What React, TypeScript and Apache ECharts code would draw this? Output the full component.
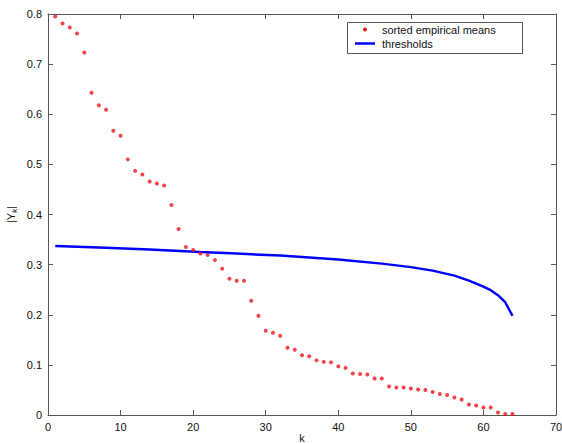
import React, { useEffect, useRef } from "react";
import * as echarts from "echarts";

const meansK = Array.from({ length: 64 }, (_, i) => i + 1);
const meansValues = [
  0.795, 0.781, 0.773, 0.761, 0.723, 0.643, 0.618, 0.609, 0.567, 0.557,
  0.510, 0.487, 0.480, 0.466, 0.462, 0.458, 0.419, 0.371, 0.335, 0.329,
  0.322, 0.319, 0.309, 0.292, 0.272, 0.268, 0.268, 0.228, 0.198, 0.168,
  0.164, 0.158, 0.134, 0.130, 0.119, 0.117, 0.109, 0.106, 0.105, 0.097,
  0.094, 0.083, 0.082, 0.081, 0.073, 0.073, 0.057, 0.055, 0.055, 0.053,
  0.051, 0.050, 0.046, 0.042, 0.040, 0.035, 0.031, 0.021, 0.019, 0.015,
  0.015, 0.005, 0.002, 0.002,
];

const thresholdK = [1, 7, 14, 21, 26, 32, 40, 46, 50, 53, 56, 58, 59, 60, 61, 62, 63, 64];
const thresholdValues = [
  0.337, 0.334, 0.330, 0.325, 0.322, 0.318, 0.310, 0.302, 0.295, 0.288,
  0.278, 0.268, 0.262, 0.256, 0.249, 0.239, 0.225, 0.198,
];

const legendLabels = ["sorted empirical means", "thresholds"];

const FONT = "Liberation Sans, Arial, sans-serif";
const AXIS_COLOR = "#555";

export default function App() {
  const ref = useRef<HTMLDivElement>(null);

  useEffect(() => {
    if (!ref.current) return;
    const chart = echarts.init(ref.current, undefined, { renderer: "svg" });

    const baseAxis = {
      axisLine: { show: true, onZero: false, lineStyle: { color: AXIS_COLOR, width: 1 } },
      axisTick: { show: true, inside: true, length: 5, lineStyle: { color: AXIS_COLOR } },
      splitLine: { show: false },
    };

    chart.setOption({
      animation: false,
      backgroundColor: "#fff",
      grid: { left: 48, right: 6, top: 14, bottom: 29, containLabel: false, outerBoundsMode: "none" },
      xAxis: [
        {
          ...baseAxis,
          type: "value",
          min: 0,
          max: 70,
          interval: 10,
          position: "bottom",
          name: "k",
          nameLocation: "middle",
          nameGap: 17,
          nameMoveOverlap: false,
          nameTextStyle: { fontFamily: FONT, fontSize: 11, color: "#111" },
          axisLabel: { fontFamily: FONT, fontSize: 11, color: "#111", margin: 6 },
        },
        {
          ...baseAxis,
          type: "value",
          min: 0,
          max: 70,
          interval: 10,
          position: "top",
          axisLabel: { show: false },
        },
      ],
      yAxis: [
        {
          ...baseAxis,
          type: "value",
          min: 0,
          max: 0.8,
          interval: 0.1,
          position: "left",
          name: "|Y{sub|k}|",
          nameLocation: "middle",
          nameGap: 30,
          nameMoveOverlap: false,
          nameRotate: 90,
          nameTextStyle: {
            fontFamily: FONT,
            fontSize: 11,
            color: "#111",
            rich: { sub: { fontFamily: FONT, fontSize: 8, color: "#111", verticalAlign: "bottom", padding: [6, 0, 0, 0] } },
          },
          axisLabel: {
            fontFamily: FONT,
            fontSize: 11,
            color: "#111",
            margin: 6,
            formatter: (v: number) => (Math.abs(v) < 1e-9 ? "0" : String(Math.round(v * 10) / 10)),
          },
        },
        {
          ...baseAxis,
          type: "value",
          min: 0,
          max: 0.8,
          interval: 0.1,
          position: "right",
          axisLabel: { show: false },
        },
      ],
      series: [
        {
          name: legendLabels[0],
          type: "scatter",
          symbol: "circle",
          symbolSize: 4,
          itemStyle: { color: "#e8141c" },
          data: meansK.map((k, i) => [k, meansValues[i]]),
          z: 3,
        },
        {
          name: legendLabels[1],
          type: "line",
          showSymbol: false,
          smooth: false,
          lineStyle: { color: "#0000ff", width: 2.5 },
          data: thresholdK.map((k, i) => [k, thresholdValues[i]]),
          z: 2,
        },
      ],
      graphic: [
        {
          type: "rect",
          shape: { x: 347.5, y: 22.5, width: 175, height: 31 },
          style: { fill: "#fff", stroke: "#555", lineWidth: 1 },
          z: 10,
        },
        {
          type: "circle",
          shape: { cx: 365, cy: 29.5, r: 2 },
          style: { fill: "#e8141c" },
          z: 11,
        },
        {
          type: "line",
          shape: { x1: 355, y1: 43.5, x2: 375, y2: 43.5 },
          style: { stroke: "#0000ff", lineWidth: 2.5 },
          z: 11,
        },
        {
          type: "text",
          x: 382,
          y: 30,
          style: { text: legendLabels[0], fontFamily: FONT, fontSize: 11, fill: "#111", textVerticalAlign: "middle" },
          z: 11,
        },
        {
          type: "text",
          x: 382,
          y: 43.5,
          style: { text: legendLabels[1], fontFamily: FONT, fontSize: 11, fill: "#111", textVerticalAlign: "middle" },
          z: 11,
        },
      ],
    });

    return () => chart.dispose();
  }, []);

  return <div ref={ref} style={{ width: 562, height: 444, position: "absolute", left: 0, top: 0 }} />;
}
